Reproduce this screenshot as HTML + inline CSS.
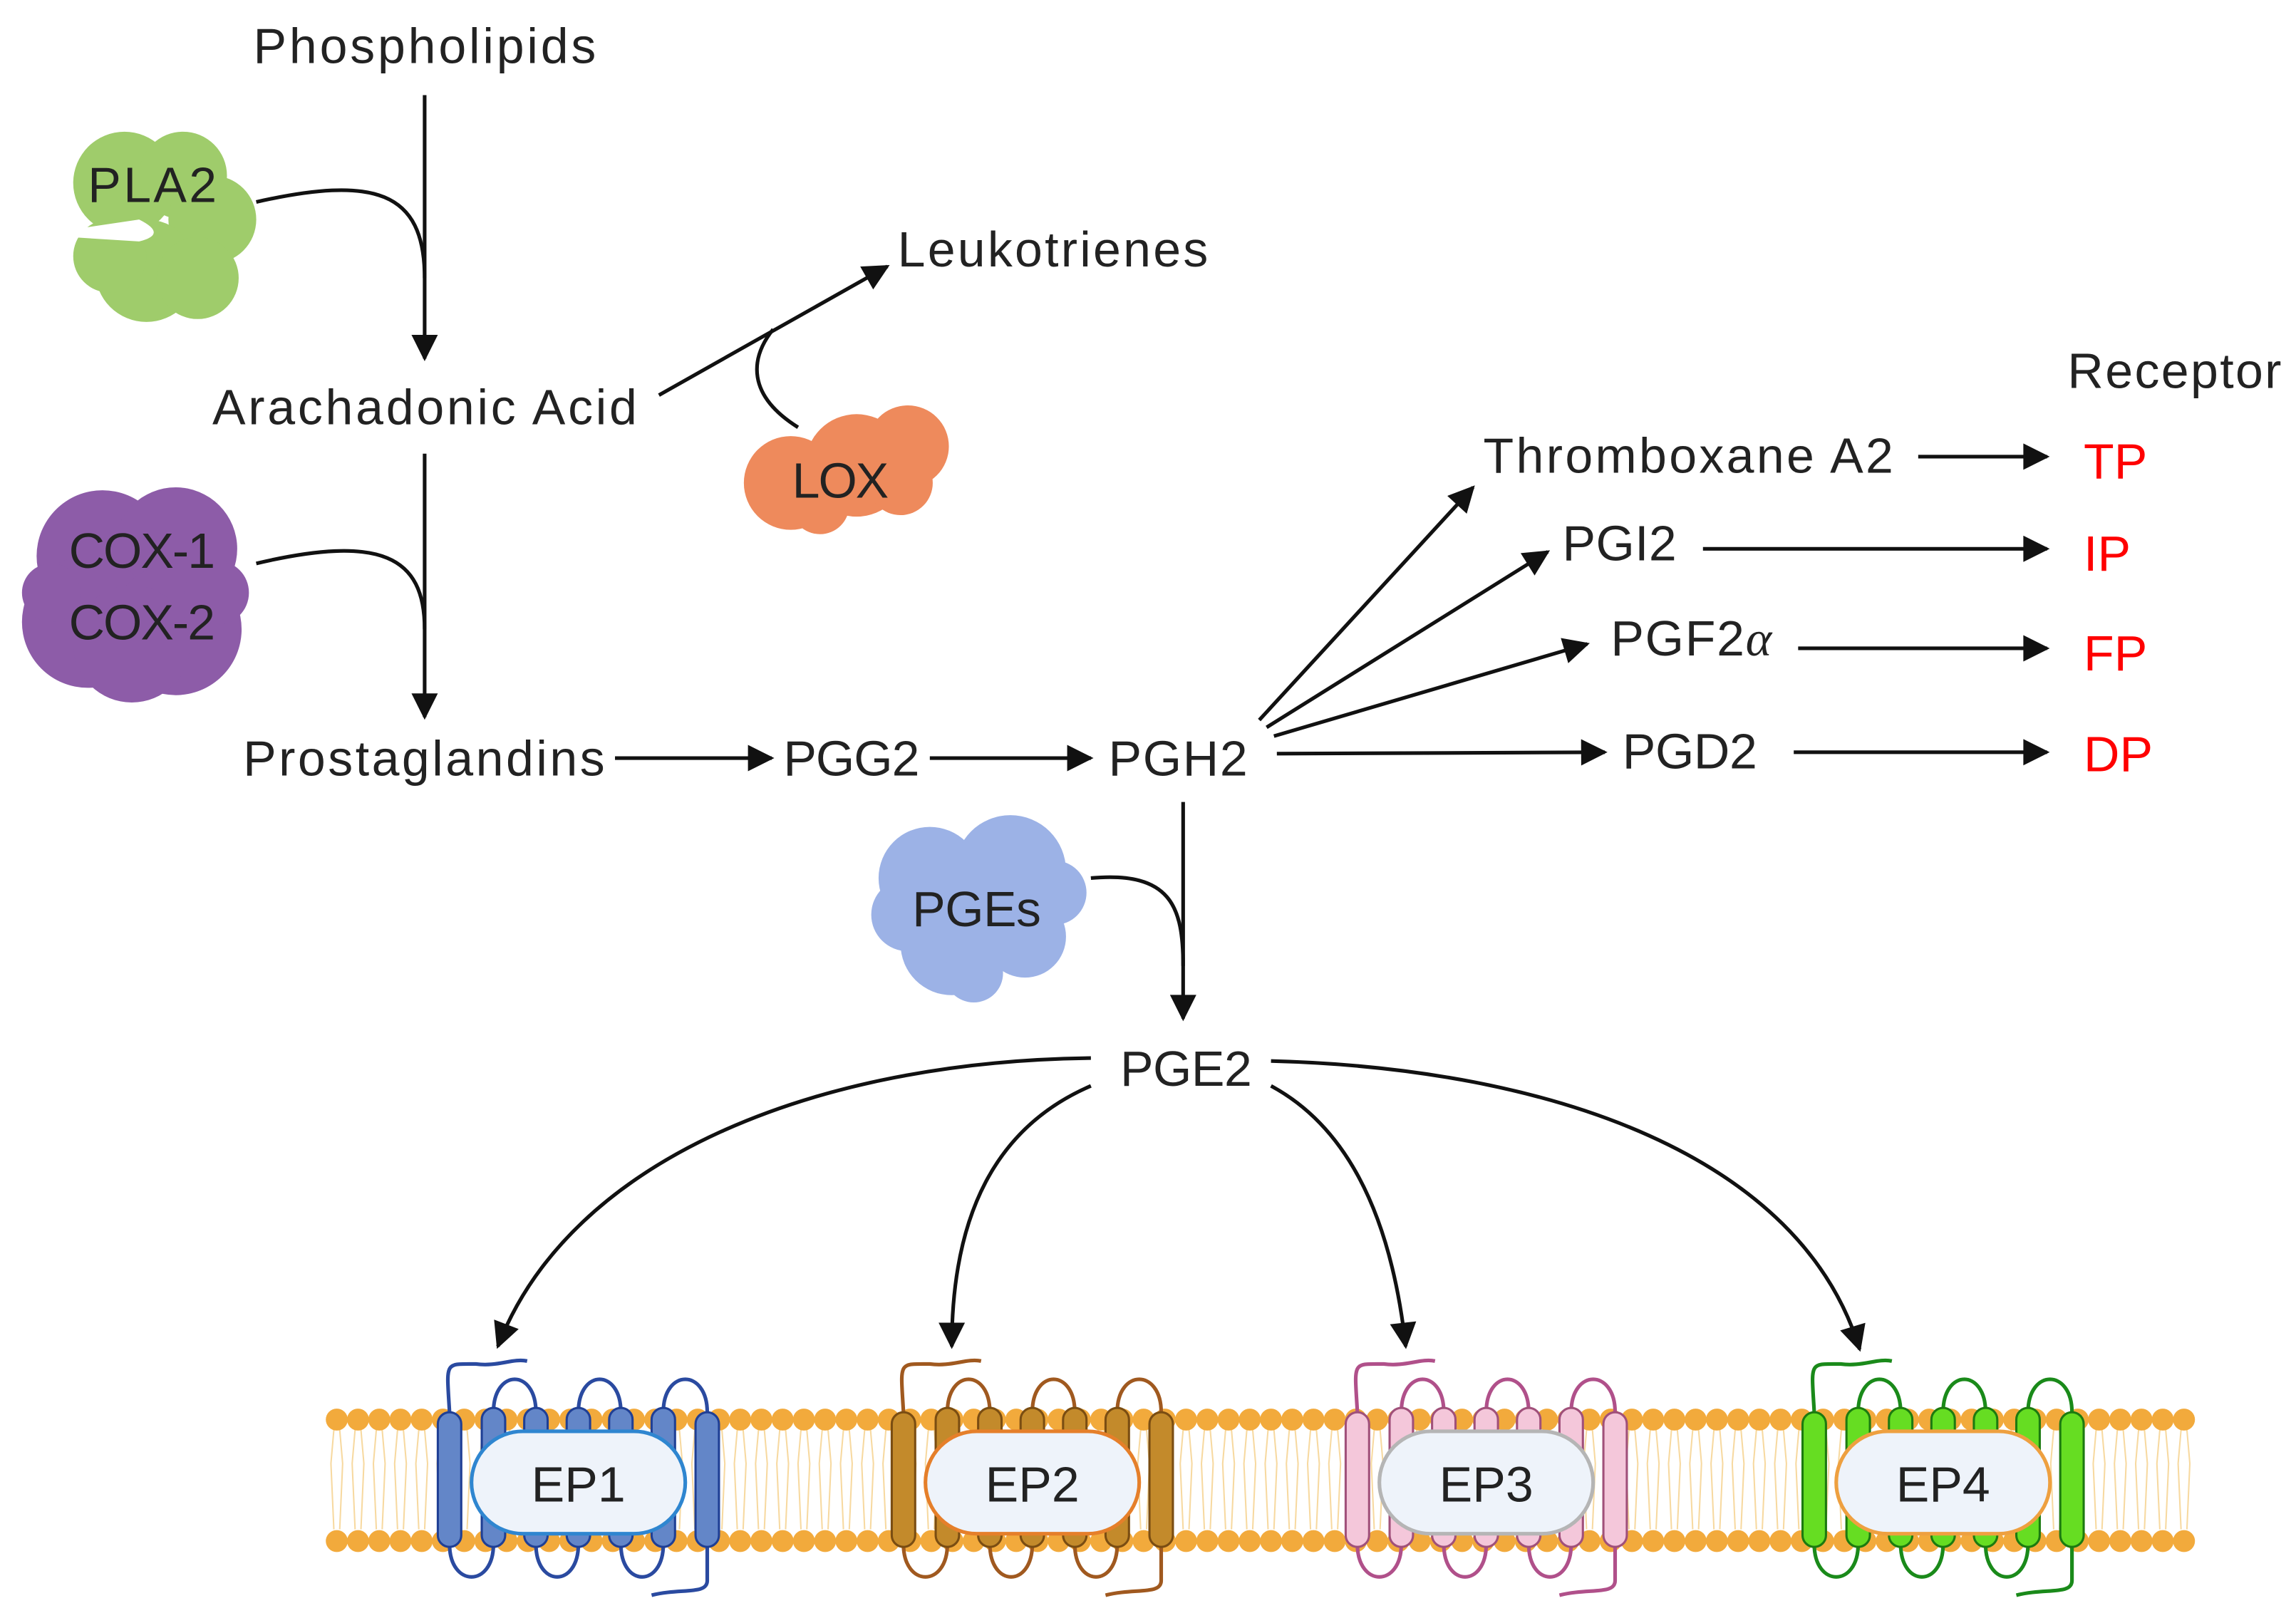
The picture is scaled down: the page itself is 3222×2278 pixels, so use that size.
<!DOCTYPE html>
<html><head><meta charset="utf-8">
<style>html,body{margin:0;padding:0;background:#fff;}svg{display:block;}
text{font-family:"Liberation Sans",sans-serif;}</style></head>
<body>
<svg id="s" width="3222" height="2278" viewBox="0 0 1568 1109" preserveAspectRatio="none" xmlns="http://www.w3.org/2000/svg">
<defs>
<marker id="b" viewBox="0 0 10 10" refX="9" refY="5" markerWidth="20" markerHeight="18" orient="auto" markerUnits="userSpaceOnUse">
<path d="M0,0 L10,5 L0,10 z" fill="#111"/></marker>
</defs>
<g id="mem"></g>
<g id="rec"></g>
<g fill="#9fcc6b">
<circle cx="85" cy="125" r="35"/><circle cx="125" cy="120" r="30"/><circle cx="145" cy="150" r="30"/><circle cx="100" cy="185" r="35"/><circle cx="135" cy="190" r="28"/><circle cx="75" cy="175" r="25"/>
</g>
<path d="M48,157 L95,150 Q115,160 95,165 L48,162z" fill="#fff"/>
<g fill="#8d5ca8">
<circle cx="70" cy="380" r="45"/><circle cx="120" cy="375" r="42"/><circle cx="60" cy="425" r="45"/><circle cx="120" cy="430" r="45"/><circle cx="90" cy="440" r="40"/><circle cx="35" cy="405" r="20"/><circle cx="148" cy="405" r="22"/>
</g>
<g fill="#ee8a5c">
<circle cx="540" cy="330" r="32"/><circle cx="585" cy="318" r="35"/><circle cx="620" cy="305" r="28"/><circle cx="560" cy="345" r="20"/><circle cx="615" cy="330" r="22"/>
</g>
<g fill="#9cb2e6">
<circle cx="635" cy="600" r="35"/><circle cx="690" cy="595" r="38"/><circle cx="650" cy="645" r="35"/><circle cx="700" cy="640" r="28"/><circle cx="620" cy="625" r="25"/><circle cx="720" cy="610" r="22"/><circle cx="665" cy="665" r="20"/>
</g>
<g fill="none" stroke="#111" stroke-width="2.5">
<path d="M290,65 L290,245" marker-end="url(#b)"/>
<path d="M175,138 C255,120 290,130 290,190"/>
<path d="M290,310 L290,490" marker-end="url(#b)"/>
<path d="M175,385 C260,365 290,380 290,430"/>
<path d="M450,270 L606,182" marker-end="url(#b)"/>
<path d="M545,292 C510,270 512,245 528,225"/>
<path d="M420,518 L527,518" marker-end="url(#b)"/>
<path d="M635,518 L745,518" marker-end="url(#b)"/>
<path d="M860,492 L1006,333" marker-end="url(#b)"/>
<path d="M865,497 L1057,377" marker-end="url(#b)"/>
<path d="M870,503 L1084,440" marker-end="url(#b)"/>
<path d="M872,515 L1096,514" marker-end="url(#b)"/>
<path d="M1310,312 L1398,312" marker-end="url(#b)"/>
<path d="M1163,375 L1398,375" marker-end="url(#b)"/>
<path d="M1228,443 L1398,443" marker-end="url(#b)"/>
<path d="M1225,514 L1398,514" marker-end="url(#b)"/>
<path d="M808,548 L808,696" marker-end="url(#b)"/>
<path d="M745,600 C800,595 808,620 808,660"/>
<path d="M745,723 C560,725 390,790 340,920" marker-end="url(#b)"/>
<path d="M745,742 C680,770 650,830 650,920" marker-end="url(#b)"/>
<path d="M868,742 C920,770 950,830 960,920" marker-end="url(#b)"/>
<path d="M868,725 C1060,730 1230,790 1270,922" marker-end="url(#b)"/>
</g>
<g font-size="34" fill="#222">
<text x="173" y="43" textLength="234">Phospholipids</text>
<text x="60" y="138" textLength="88">PLA2</text>
<text x="145" y="290" textLength="290">Arachadonic Acid</text>
<text x="613" y="182" textLength="212">Leukotrienes</text>
<text x="541" y="340" textLength="66">LOX</text>
<text x="47" y="388" textLength="100">COX-1</text>
<text x="47" y="437" textLength="100">COX-2</text>
<text x="166" y="530" textLength="247">Prostaglandins</text>
<text x="535" y="530" textLength="93">PGG2</text>
<text x="757" y="530" textLength="95">PGH2</text>
<text x="1013" y="323" textLength="280">Thromboxane A2</text>
<text x="1067" y="383" textLength="78">PGI2</text>
<text x="1100" y="448" textLength="110">PGF2<tspan font-style="italic" font-family="Liberation Serif">α</tspan></text>
<text x="1108" y="525" textLength="92">PGD2</text>
<text x="1412" y="265" textLength="146">Receptor</text>
<text x="623" y="633" textLength="88">PGEs</text>
<text x="765" y="742" textLength="90">PGE2</text>
</g>
<g font-size="34" fill="#f00">
<text x="1423" y="327">TP</text><text x="1423" y="390">IP</text><text x="1423" y="458">FP</text><text x="1423" y="527">DP</text>
</g>
</svg>
<script>
var NS="http://www.w3.org/2000/svg";
function el(p,t,a,txt){var e=document.createElementNS(NS,t);for(var k in a)e.setAttribute(k,a[k]);if(txt)e.textContent=txt;p.appendChild(e);return e;}
var m=document.getElementById('mem');
for(var x=230;x<=1498;x+=14.5){
 el(m,'path',{d:'M'+(x-2)+',977 L'+(x-4)+',1000 L'+(x-2)+',1045 M'+(x+2)+',977 L'+(x+4)+',1000 L'+(x+2)+',1045',stroke:'#f7d9a0','stroke-width':1,fill:'none'});
 el(m,'circle',{cx:x,cy:970,r:7.5,fill:'#f2aa3c'});
 el(m,'circle',{cx:x,cy:1053,r:7.5,fill:'#f2aa3c'});
}
var r=document.getElementById('rec');
var R=[[395,'EP1','#6386c8','#1f3f95','#2a4aa0','#2f86d0'],[705,'EP2','#c38a2b','#7a4d12','#a0591f','#e57f2a'],[1015,'EP3','#f4c7da','#a0507a','#b0508a','#b5b5b5'],[1327,'EP4','#66dd22','#1c7a10','#1a8a1a','#eea040']];
R.forEach(function(q){
 var c=q[0],offs=[-88,-58,-29,0,29,58,88];
 var g=el(r,'g',{});
 var d='M'+(c-88)+',965 C'+(c-90)+',930 '+(c-92)+',932 '+(c-70)+',932 C'+(c-55)+',934 '+(c-45)+',928 '+(c-35)+',930';
 d+=' M'+(c+88)+',1055 L'+(c+88)+',1080 C'+(c+88)+',1090 '+(c+70)+',1085 '+(c+50)+',1090';
 for(var i=1;i<6;i+=2){var x1=c+offs[i],x2=c+offs[i+1];d+=' M'+x1+',965 C'+x1+',935 '+x2+',935 '+x2+',965';}
 for(var i=0;i<6;i+=2){var x1=c+offs[i],x2=c+offs[i+1];d+=' M'+x1+',1055 C'+x1+',1085 '+x2+',1085 '+x2+',1055';}
 el(g,'path',{d:d,fill:'none',stroke:q[4],'stroke-width':2.5});
 offs.forEach(function(o,i){var full=(i==0||i==6);
  el(g,'rect',{x:c+o-8,y:full?965:962,width:16,height:full?92:95,rx:8,fill:q[2],stroke:q[3],'stroke-width':1.5});});
 el(g,'rect',{x:c-73,y:978,width:146,height:70,rx:35,fill:'#eef3fa',stroke:q[5],'stroke-width':2.5});
 el(g,'text',{x:c,y:1026,'font-size':34,'text-anchor':'middle',fill:'#222'},q[1]);
});
</script>
</body></html>
